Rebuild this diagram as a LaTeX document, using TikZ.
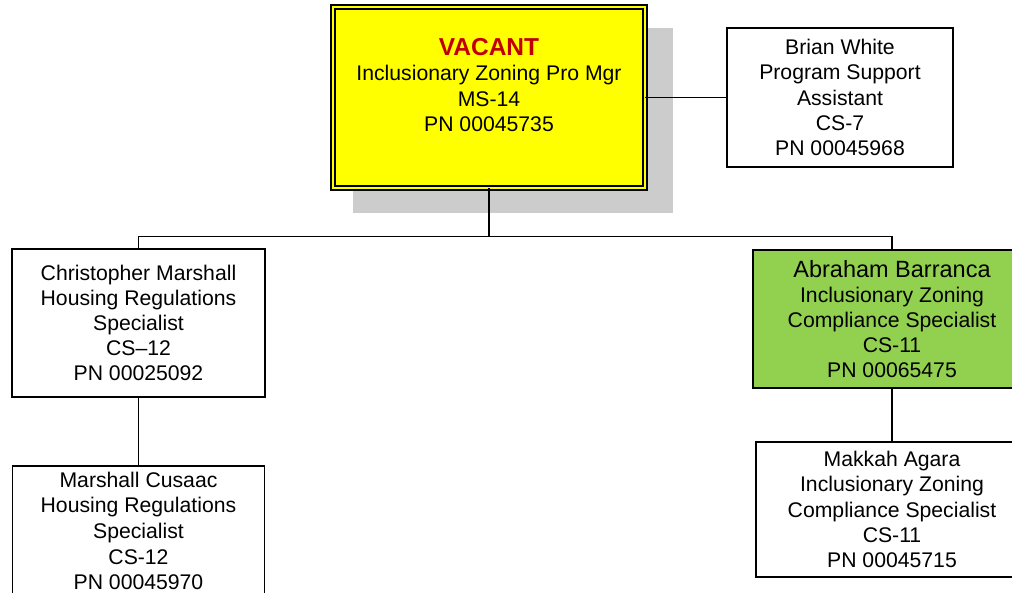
\documentclass[tikz,border=0pt]{standalone}
\usepackage{fontspec}
\setmainfont{Liberation Sans}
\definecolor{vacyellow}{RGB}{255,255,0}
\definecolor{okgreen}{RGB}{146,208,80}
\definecolor{shadowgray}{RGB}{204,204,204}
\definecolor{vacred}{RGB}{192,0,0}
\begin{document}
\begin{tikzpicture}[x=1pt,y=-1pt,
  box/.style={draw=black, line width=1.7pt, fill=white, rectangle, inner sep=0pt, outer sep=0pt,
    align=center, font=\fontsize{21.2}{25.2}\selectfont},
  conn/.style={draw=black, line width=1.8pt},
  txt/.style={align=center, inner sep=0pt, font=\fontsize{21.2}{25.6}\selectfont}]
\useasboundingbox (0,0) rectangle (1012,593);
\fill[shadowgray] (353,28) rectangle (673,213);
\node[box, fill=vacyellow, double=vacyellow, double distance=2.4pt, line width=1.7pt,
  minimum width=312pt, minimum height=181pt] (vac) at (489,97.5) {};
\node[txt] (vactext) at (489,85) {{\fontsize{24.5}{25.6}\selectfont\bfseries\color{vacred}VACANT}\\Inclusionary Zoning Pro Mgr\\MS-14\\PN 00045735};
\node[box, minimum width=226pt, minimum height=139pt] (brian) at (840,97.5)
  {Brian White\\Program Support\\Assistant\\CS-7\\PN 00045968};
\node[box, minimum width=253pt, minimum height=148pt] (chris) at (138.5,323)
  {Christopher Marshall\\Housing Regulations\\Specialist\\CS--12\\PN 00025092};
\node[box, minimum width=252pt, minimum height=148pt] (marsh) at (138.5,540)
  {};
\node[txt] (marshtext) at (138.5,531) {Marshall Cusaac\\Housing Regulations\\Specialist\\CS-12\\PN 00045970};
\node[box, fill=okgreen, minimum width=278pt, minimum height=138pt] (green) at (892,319)
  {{\fontsize{23.5}{25}\selectfont Abraham Barranca}\\Inclusionary Zoning\\Compliance Specialist\\CS-11\\PN 00065475};
\node[box, minimum width=272pt, minimum height=135pt] (makkah) at (892,509.5)
  {Makkah Agara\\Inclusionary Zoning\\Compliance Specialist\\CS-11\\PN 00045715};
\coordinate (bus) at (489,236.5);
\draw[conn] (vac.east) -- (brian.west);
\draw[conn] (vac.south) -- (bus);
\draw[conn] (chris.north) |- (bus) -| (green.north);
\draw[conn] (chris.south) -- (marsh.north);
\draw[conn] (green.south) -- (makkah.north);
\end{tikzpicture}
\end{document}
